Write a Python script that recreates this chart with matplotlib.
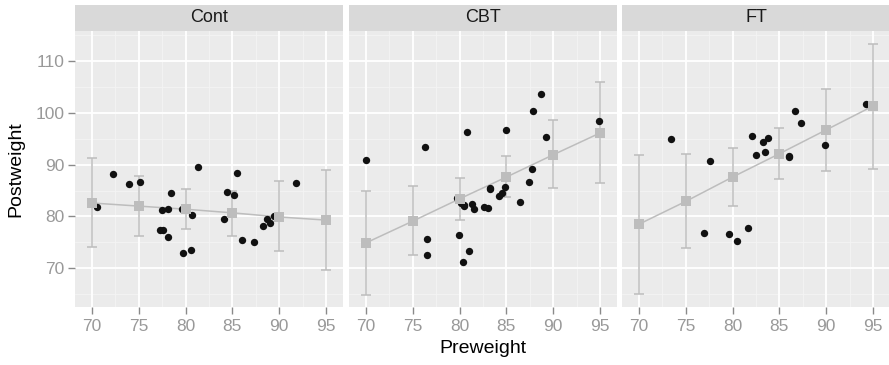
import matplotlib
matplotlib.use("Agg")
import matplotlib.pyplot as plt
import numpy as np

plt.rcParams['font.family'] = ['Liberation Sans', 'DejaVu Sans']

groups = ["Cont", "CBT", "FT"]

cont_pre = [80.7, 89.4, 91.8, 74.0, 78.1, 88.3, 87.3, 75.1, 80.6, 78.4, 77.6, 88.7, 81.3,
            78.1, 70.5, 77.3, 85.2, 86.0, 84.1, 79.7, 85.5, 84.4, 79.6, 77.5, 72.3, 89.0]
cont_post = [80.2, 80.1, 86.4, 86.3, 76.1, 78.1, 75.1, 86.7, 73.5, 84.6, 77.4, 79.5, 89.6,
             81.4, 81.8, 77.3, 84.2, 75.4, 79.5, 73.0, 88.3, 84.7, 81.4, 81.2, 88.2, 78.8]
cbt_pre = [80.5, 84.9, 81.5, 82.6, 79.9, 88.7, 94.9, 76.3, 81.0, 80.5, 85.0, 89.2, 81.3,
           76.5, 70.0, 80.4, 83.3, 83.0, 87.7, 84.2, 86.4, 76.5, 80.2, 87.8, 83.3, 79.7,
           84.5, 80.8, 87.4]
cbt_post = [82.2, 85.6, 81.4, 81.9, 76.4, 103.6, 98.4, 93.4, 73.4, 82.1, 96.7, 95.3, 82.4,
            72.5, 90.9, 71.3, 85.4, 81.6, 89.1, 83.9, 82.7, 75.7, 82.6, 100.4, 85.2, 83.6,
            84.6, 96.2, 86.7]
ft_pre = [83.8, 83.3, 86.0, 82.5, 86.7, 79.6, 76.9, 94.2, 73.4, 80.5, 81.6, 82.1, 77.6,
          83.5, 89.9, 86.0, 87.3]
ft_post = [95.2, 94.3, 91.5, 91.9, 100.3, 76.7, 76.8, 101.6, 94.9, 75.2, 77.8, 95.5, 90.7,
           92.5, 93.8, 91.7, 98.0]

pred_x = [70, 75, 80, 85, 90, 95]
cont_fit = [82.6, 82.0, 81.4, 80.7, 79.9, 79.3]
cont_lo = [74.1, 76.2, 77.5, 76.3, 73.3, 69.6]
cont_hi = [91.3, 87.8, 85.2, 84.9, 86.8, 89.0]
cbt_fit = [74.9, 79.1, 83.4, 87.6, 91.9, 96.1]
cbt_lo = [64.9, 72.5, 79.4, 83.8, 85.5, 86.4]
cbt_hi = [84.9, 85.9, 87.5, 91.7, 98.5, 106.0]
ft_fit = [78.5, 82.9, 87.6, 92.1, 96.7, 101.3]
ft_lo = [65.1, 74.0, 82.0, 87.3, 88.8, 89.2]
ft_hi = [91.8, 92.1, 93.2, 97.1, 104.6, 113.3]

data = {
    "Cont": (cont_pre, cont_post, cont_fit, cont_lo, cont_hi),
    "CBT": (cbt_pre, cbt_post, cbt_fit, cbt_lo, cbt_hi),
    "FT": (ft_pre, ft_post, ft_fit, ft_lo, ft_hi),
}

W, H = 889, 365
fig = plt.figure(figsize=(W / 100, H / 100), dpi=100)

panel_lefts = [75, 349, 622]
panel_w = 268
panel_top = 31
panel_bot = 307
strip_top = 5

grey_line = "#BDBDBD"
xlim = (68.2, 96.8)
ylim = (62.55, 115.75)

for i, g in enumerate(groups):
    pre, post, fit, lo, hi = data[g]
    l = panel_lefts[i] / W
    b = (H - panel_bot) / H
    w = panel_w / W
    h = (panel_bot - panel_top) / H
    ax = fig.add_axes([l, b, w, h])
    ax.set_facecolor("#EBEBEB")
    ax.set_xlim(*xlim)
    ax.set_ylim(*ylim)
    # grid
    for xv in [72.5, 77.5, 82.5, 87.5, 92.5]:
        ax.axvline(xv, color="#F4F4F4", lw=0.6, zorder=0)
    for yv in [65, 75, 85, 95, 105, 115]:
        ax.axhline(yv, color="#F4F4F4", lw=0.6, zorder=0)
    for xv in [70, 75, 80, 85, 90, 95]:
        ax.axvline(xv, color="white", lw=1.3, zorder=0.5)
    for yv in [70, 80, 90, 100, 110]:
        ax.axhline(yv, color="white", lw=1.3, zorder=0.5)
    for s in ax.spines.values():
        s.set_visible(False)
    # fit line and error bars
    ax.plot(pred_x, fit, color=grey_line, lw=1.1, zorder=2)
    yerr = [np.array(fit) - np.array(lo), np.array(hi) - np.array(fit)]
    ax.errorbar(pred_x, fit, yerr=yerr, fmt="none", ecolor=grey_line, elinewidth=1.1,
                capsize=3.5, capthick=1.1, zorder=2)
    ax.scatter(pre, post, s=28, color="#111111", zorder=3, linewidths=0)
    ax.scatter(pred_x, fit, s=44, marker="s", color=grey_line, zorder=4, linewidths=0)

    ax.set_xticks([70, 75, 80, 85, 90, 95])
    ax.set_xticklabels(["70", "75", "80", "85", "90", "95"])
    ax.set_yticks([70, 80, 90, 100, 110])
    ax.tick_params(axis="both", colors="#8A8A8A", labelsize=12.5, length=4.8, width=1,
                   labelcolor="#999999")
    ax.tick_params(axis="x", pad=3.5)
    ax.tick_params(axis="y", pad=3)
    if i > 0:
        ax.tick_params(axis="y", left=False, labelleft=False)
    else:
        ax.set_ylabel("Postweight", fontsize=14, color="black", labelpad=8)
    if i == 1:
        ax.set_xlabel("Preweight", fontsize=14, color="black", labelpad=5)

    # strip
    sax = fig.add_axes([l, (H - panel_top) / H, w, (panel_top - strip_top) / H])
    sax.set_facecolor("#D9D9D9")
    sax.set_xticks([])
    sax.set_yticks([])
    for s in sax.spines.values():
        s.set_visible(False)
    sax.text(0.5, 0.5, g, ha="center", va="center", fontsize=13, color="#1A1A1A",
             transform=sax.transAxes)

fig.savefig("out.png", dpi=100)
